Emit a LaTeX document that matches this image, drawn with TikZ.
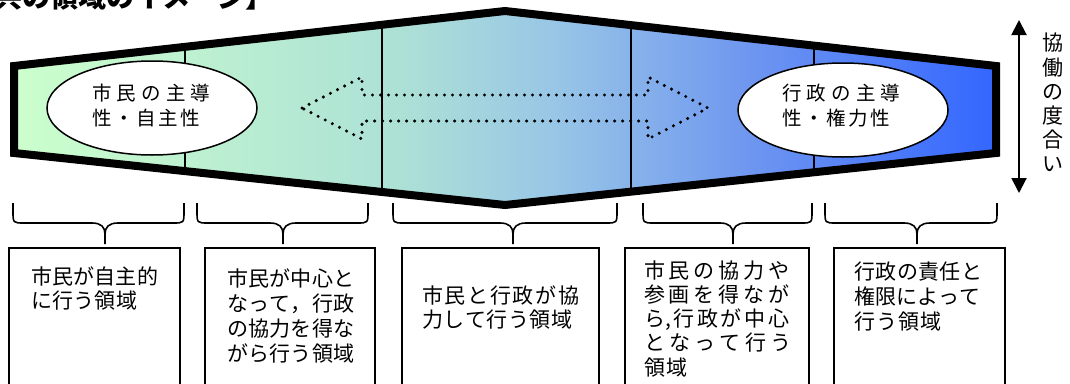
\documentclass[tikz,border=0pt]{standalone}
\usepackage{fontspec}
\setmainfont{Noto Sans CJK JP}
\usetikzlibrary{arrows.meta,shapes.geometric}
\definecolor{gA}{RGB}{204,255,204}
\definecolor{gB}{RGB}{172,224,214}
\definecolor{gC}{RGB}{152,198,230}
\definecolor{gD}{RGB}{110,150,240}
\definecolor{gE}{RGB}{51,102,255}
\pgfdeclarehorizontalshading{regshade}{100bp}{color(0bp)=(gA); color(25bp)=(gA); color(45bp)=(gB); color(52.5bp)=(gC); color(62.5bp)=(gD); color(75bp)=(gE); color(100bp)=(gE)}
\newcommand\spl[2]{\makebox[#1][s]{\sprA#2\relax}}
\def\sprA#1{#1\sprB}
\def\sprB#1{\ifx\relax#1\else\hfill#1\expandafter\sprB\fi}
\newcommand\brc[3]{%
  \draw[bracestyle] (#1,203) -- (#1,211) .. controls (#1,223) and (#1,223) .. ({#1+11},223) -- ({#2-13},223) .. controls ({#2-4},223) and (#2,227) .. (#2,234) -- (#2,244);
  \draw[bracestyle] (#3,203) -- (#3,211) .. controls (#3,223) and (#3,223) .. ({#3-11},223) -- ({#2+13},223) .. controls ({#2+4},223) and (#2,227) .. (#2,234);}
\tikzset{
  bracestyle/.style={line width=1.6pt, line join=round},
  boxstyle/.style={draw, line width=1.6pt, fill=white},
  txt/.style={inner sep=0pt, anchor=base west, font=\fontsize{21}{24}\selectfont},
  etxt/.style={inner sep=0pt, anchor=base west, font=\fontsize{19.5}{22}\selectfont},
  ell/.style={ellipse, draw, line width=1.5pt, fill=white, minimum width=210pt, minimum height=94pt, inner sep=0pt},
  divider/.style={line width=1.5pt},
}
\begin{document}
\begin{tikzpicture}[x=1pt,y=-1pt]
\useasboundingbox (0,0) rectangle (1070,383);
\clip (0,0) rectangle (1070,383);
% title (cut off at top, as in the reference)
\node[inner sep=0pt, anchor=base west, font=\fontsize{28}{30}\selectfont\bfseries] (title) at (-62,7) {【公共の領域のイメージ】};
% hexagon
\coordinate (L1) at (14,66);
\coordinate (T) at (505,11);
\coordinate (R1) at (996,66);
\coordinate (R2) at (996,153);
\coordinate (B) at (505,205);
\coordinate (L2) at (14,153);
\shade[shading=regshade] (L1) -- (T) -- (R1) -- (R2) -- (B) -- (L2) -- cycle;
\begin{scope}
  \clip (L1) -- (T) -- (R1) -- (R2) -- (B) -- (L2) -- cycle;
  \foreach \xx in {185,382,631,814} {\draw[divider] (\xx,0) -- (\xx,230);}
\end{scope}
\draw[line width=8pt, line join=miter] (L1) -- (T) -- (R1) -- (R2) -- (B) -- (L2) -- cycle;
% dotted double arrow
\coordinate (A1) at (302,108);
\coordinate (A2) at (362,77);
\coordinate (A3) at (362,95);
\coordinate (A4) at (648,95);
\coordinate (A5) at (648,77);
\coordinate (A6) at (708,108);
\coordinate (A7) at (648,139);
\coordinate (A8) at (648,121);
\coordinate (A9) at (362,121);
\coordinate (A10) at (362,139);
\draw[line width=3.4pt, line cap=round, dash pattern=on 0pt off 8pt] (A1) -- (A2) -- (A3) -- (A4) -- (A5) -- (A6) -- (A7) -- (A8) -- (A9) -- (A10) -- cycle;
% ellipses
\node[ell] (eL) at (152,108) {};
\node[ell] (eR) at (843,110) {};
\node[etxt] (eL1) at (92,100) {\spl{118pt}{市民の主導}};
\node[etxt] (eL2) at (92,125.5) {\spl{108pt}{性・自主性}};
\node[etxt] (eR1) at (782,100) {\spl{118pt}{行政の主導}};
\node[etxt] (eR2) at (782,125.5) {\spl{108pt}{性・権力性}};
% vertical arrow and label
\coordinate (V1) at (1019,20);
\coordinate (V2) at (1019,193);
\draw[line width=2pt, {Triangle[length=15pt,width=15pt]}-{Triangle[length=15pt,width=15pt]}] (V1) -- (V2);
\node[inner sep=0pt, anchor=north, align=center, font=\fontsize{21}{24.2}\selectfont] (vlab) at (1053,33) {協\\働\\の\\度\\合\\い};
% braces
\brc{13}{105}{184}
\brc{197}{283}{368}
\brc{393}{513}{617}
\brc{643}{733}{812}
\brc{825}{917}{997}
% boxes
\draw[boxstyle] (9,248) rectangle (180,400);
\draw[boxstyle] (205,248) rectangle (375,400);
\draw[boxstyle] (402,248) rectangle (599,400);
\draw[boxstyle] (625,248) rectangle (809,400);
\draw[boxstyle] (834,248) rectangle (1005,400);
% box texts
\node[txt] (t11) at (31,284) {\spl{127pt}{市民が自主的}};
\node[txt] (t12) at (31,308.5) {\spl{106pt}{に行う領域}};
\node[txt] (t21) at (227,286) {\spl{127pt}{市民が中心と}};
\node[txt] (t22) at (227,311) {\spl{127pt}{なって，行政}};
\node[txt] (t23) at (227,336) {\spl{127pt}{の協力を得な}};
\node[txt] (t24) at (227,361) {\spl{127pt}{がら行う領域}};
\node[txt] (t31) at (422,303) {\spl{157pt}{市民と行政が協}};
\node[txt] (t32) at (422,327) {\spl{150pt}{力して行う領域}};
\node[txt] (t41) at (644,278) {\spl{145pt}{市民の協力や}};
\node[txt] (t42) at (644,302) {\spl{145pt}{参画を得なが}};
\node[txt] (t43) at (644,326) {\spl{145pt}{{ら,}行政が中心}};
\node[txt] (t44) at (644,350) {\spl{147pt}{となって行う}};
\node[txt] (t45) at (644,375) {\spl{43pt}{領域}};
\node[txt] (t51) at (854,279) {\spl{128pt}{行政の責任と}};
\node[txt] (t52) at (854,304) {\spl{126pt}{権限によって}};
\node[txt] (t53) at (854,329) {\spl{87pt}{行う領域}};
\end{tikzpicture}
\end{document}
